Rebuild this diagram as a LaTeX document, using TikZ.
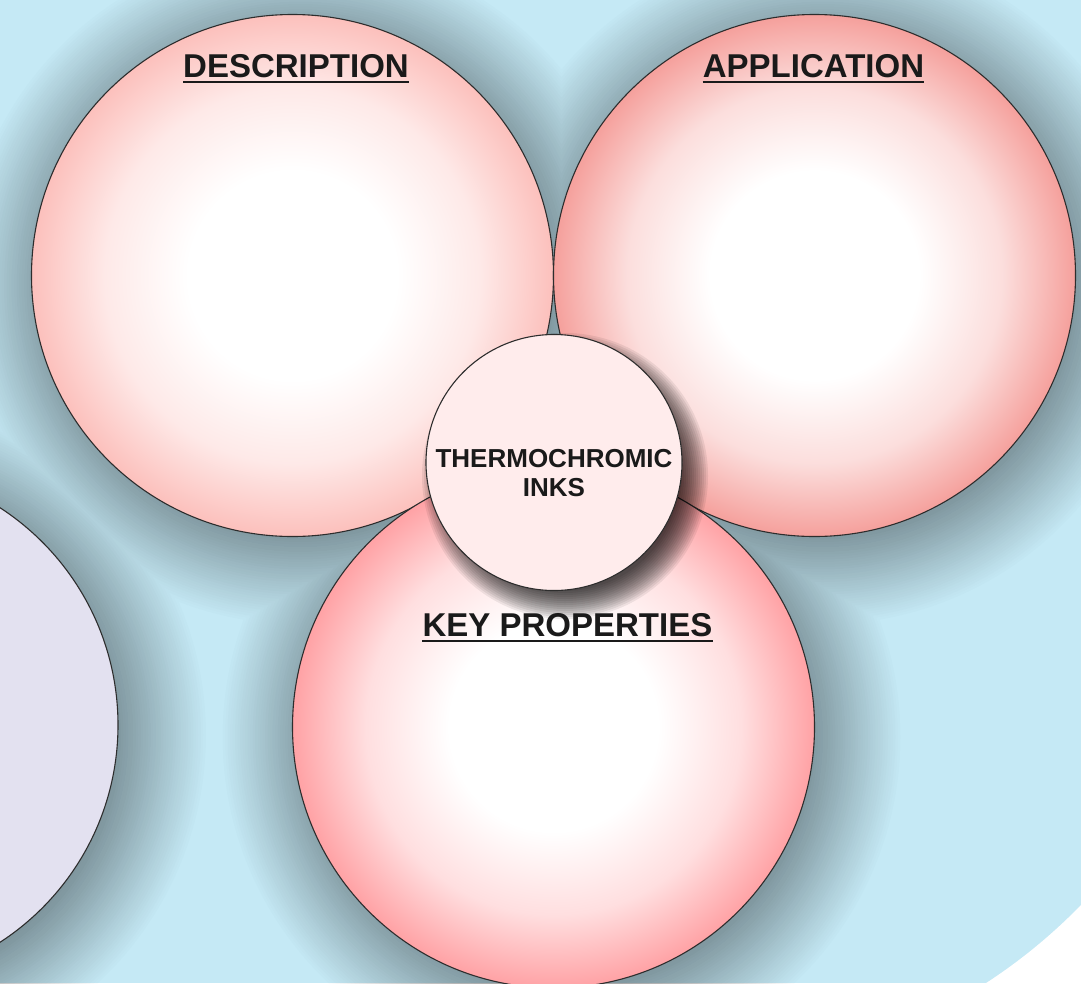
\documentclass[tikz,border=0pt]{standalone}
\usepackage{fontspec}
\setmainfont{Liberation Sans}
\definecolor{bgblue}{RGB}{197,233,245}
\definecolor{lav}{RGB}{227,225,240}
\definecolor{descedge}{RGB}{252,192,188}
\definecolor{appedge}{RGB}{245,160,156}
\definecolor{keyedge}{RGB}{255,162,165}
\definecolor{coreFill}{RGB}{255,236,236}
\definecolor{lineGray}{RGB}{45,45,45}
\definecolor{ink}{RGB}{26,26,26}
\pgfdeclareradialshading{descball}{\pgfpoint{0bp}{0bp}}{color(0bp)=(white); color(10bp)=(white); color(18bp)=(descedge!35!white); color(25bp)=(descedge); color(50bp)=(descedge)}
\pgfdeclareradialshading{appball}{\pgfpoint{0bp}{0bp}}{color(0bp)=(white); color(10bp)=(white); color(18bp)=(appedge!35!white); color(25bp)=(appedge); color(50bp)=(appedge)}
\pgfdeclareradialshading{keyball}{\pgfpoint{0bp}{0bp}}{color(0bp)=(white); color(10bp)=(white); color(18bp)=(keyedge!35!white); color(25bp)=(keyedge); color(50bp)=(keyedge)}
\begin{document}
\begin{tikzpicture}[x=1pt,y=-1pt,
  bigball/.style={circle, inner sep=0pt, minimum size=522pt, draw=lineGray, line width=1.1pt},
  title/.style={anchor=base, inner sep=0pt, text=ink, font=\fontsize{33}{38}\selectfont\bfseries},
  uline/.style={draw=ink, line width=2.8pt},
  coretext/.style={inner sep=0pt, align=center, text=ink, font=\fontsize{26}{29.5}\selectfont\bfseries}]
\useasboundingbox (0,0) rectangle (1081,983);
\clip (0,0) rectangle (1081,983);
\fill[bgblue] (0,0) rectangle (1081,983);
% soft shadows of the large circles (one transparency group)
\begin{scope}[transparency group, opacity=0.37]
\foreach \i in {1,...,38}{
  \pgfmathsetmacro\aa{1/\i}
  \pgfmathsetmacro\rr{244+2.5*\i}
  \fill[black, fill opacity=\aa] (-133,735) circle (\rr pt) (300.5,285.5) circle (\rr pt)
     (822.5,285.5) circle (\rr pt) (561.5,737) circle (\rr pt);
}
\end{scope}
% white corner outside the blue field
\begin{scope}
  \clip (850,750) rectangle (1081,983);
  \fill[white, even odd rule] (687,522) circle (549.5pt) (0,0) rectangle (1081,983);
\end{scope}
% large circles
\node[bigball, fill=lav, minimum size=518pt] (lavball) at (-141,725) {};
\node[bigball, shading=descball] (descball) at (292.5,275.5) {};
\node[bigball, shading=appball] (appball) at (814.5,275.5) {};
\node[bigball, shading=keyball] (keyball) at (553.5,727) {};
% shadow of the core circle
\foreach \i in {1,...,15}{
  \pgfmathsetmacro\rr{113+2*\i}
  \fill[black, opacity=0.07] (565,476) circle (\rr pt);
}
\node[circle, inner sep=0pt, minimum size=256pt, fill=coreFill, draw=lineGray, line width=1.1pt] (core) at (554,462.5) {};
\node[coretext] (corelbl) at (554,473) {THERMOCHROMIC\\INKS};
% titles
\node[title] (desct) at (296,77) {DESCRIPTION};
\draw[uline] ([yshift=-5pt]desct.base west) -- ([yshift=-5pt]desct.base east);
\node[title] (appt) at (813.5,77) {APPLICATION};
\draw[uline] ([yshift=-5pt]appt.base west) -- ([yshift=-5pt]appt.base east);
\node[title] (keyt) at (567.5,636.5) {KEY PROPERTIES};
\draw[uline] ([yshift=-4.5pt]keyt.base west) -- ([yshift=-4.5pt]keyt.base east);
\end{tikzpicture}
\end{document}
